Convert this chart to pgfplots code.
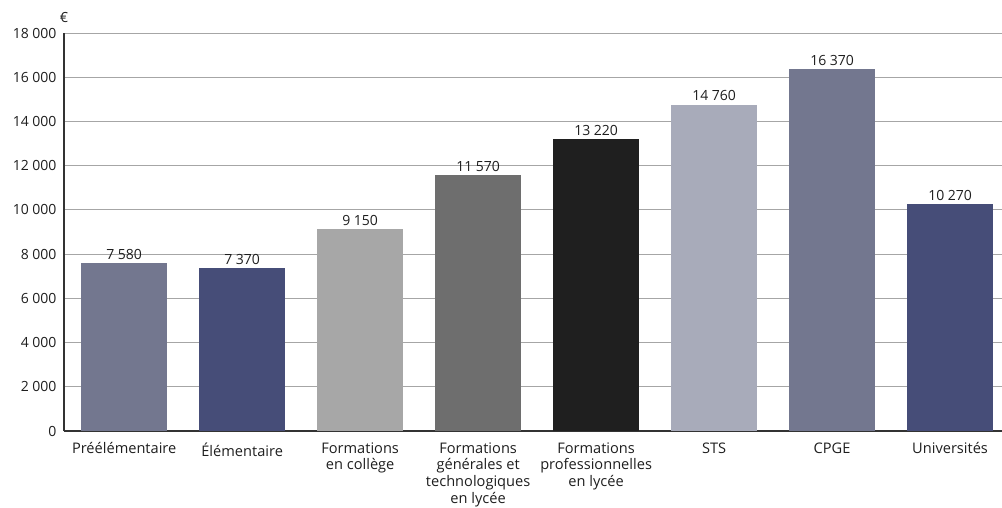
\documentclass[border=0pt]{standalone}
\usepackage{fontspec}
\setmainfont{Open Sans}
\usepackage{pgfplots}
\pgfplotsset{compat=1.18}
\definecolor{cA}{HTML}{73778F}
\definecolor{cB}{HTML}{464D78}
\definecolor{cC}{HTML}{A7A7A7}
\definecolor{cD}{HTML}{6E6E6E}
\definecolor{cE}{HTML}{1F1F1F}
\definecolor{cF}{HTML}{A8ABBA}
\definecolor{txt}{HTML}{1E1E1E}
\begin{document}
\begin{tikzpicture}[font=\fontsize{14pt}{16.7pt}\selectfont, text=txt]
\useasboundingbox (-64pt,-76pt) rectangle (938pt,431pt);
\begin{axis}[
  at={(0pt,0pt)}, anchor=south west,
  scale only axis, width=938pt, height=398pt,
  xmin=-0.51, xmax=7.44, ymin=0, ymax=18000,
  axis x line*=bottom, axis y line*=left,
  axis line style={draw=black!80, line width=1.3pt},
  ytick={0,2000,...,18000},
  ymajorgrids, grid style={draw=black!35, line width=0.8pt},
  major tick length=0pt,
  xtick={0,...,7},
  xticklabels={Préélémentaire,Élémentaire,Formations\\en collège,Formations\\générales et\\technologiques\\en lycée,Formations\\professionnelles\\en lycée,STS,CPGE,Universités},
  xticklabel style={align=center, yshift=-8pt, font=\fontsize{14.6pt}{16.7pt}\selectfont},
  yticklabel style={xshift=-4pt},
  /pgf/number format/assume math mode=true,
  /pgf/number format/1000 sep={\ },
  scaled y ticks=false,
  every axis plot/.append style={ybar, bar width=86pt, bar shift=0pt, draw=none},
  nodes near coords,
  nodes near coords style={/pgf/number format/1000 sep={\ }, /pgf/number format/assume math mode=true, yshift=0pt},
  clip=false,
]
\addplot[fill=cA] coordinates {(0,7580)};
\addplot[fill=cB] coordinates {(1,7370)};
\addplot[fill=cC] coordinates {(2,9150)};
\addplot[fill=cD] coordinates {(3,11570)};
\addplot[fill=cE] coordinates {(4,13220)};
\addplot[fill=cF] coordinates {(5,14760)};
\addplot[fill=cA] coordinates {(6,16370)};
\addplot[fill=cB] coordinates {(7,10270)};
\node[anchor=south] at (rel axis cs:0,1) [yshift=7pt] {€};
\end{axis}
\end{tikzpicture}
\end{document}
